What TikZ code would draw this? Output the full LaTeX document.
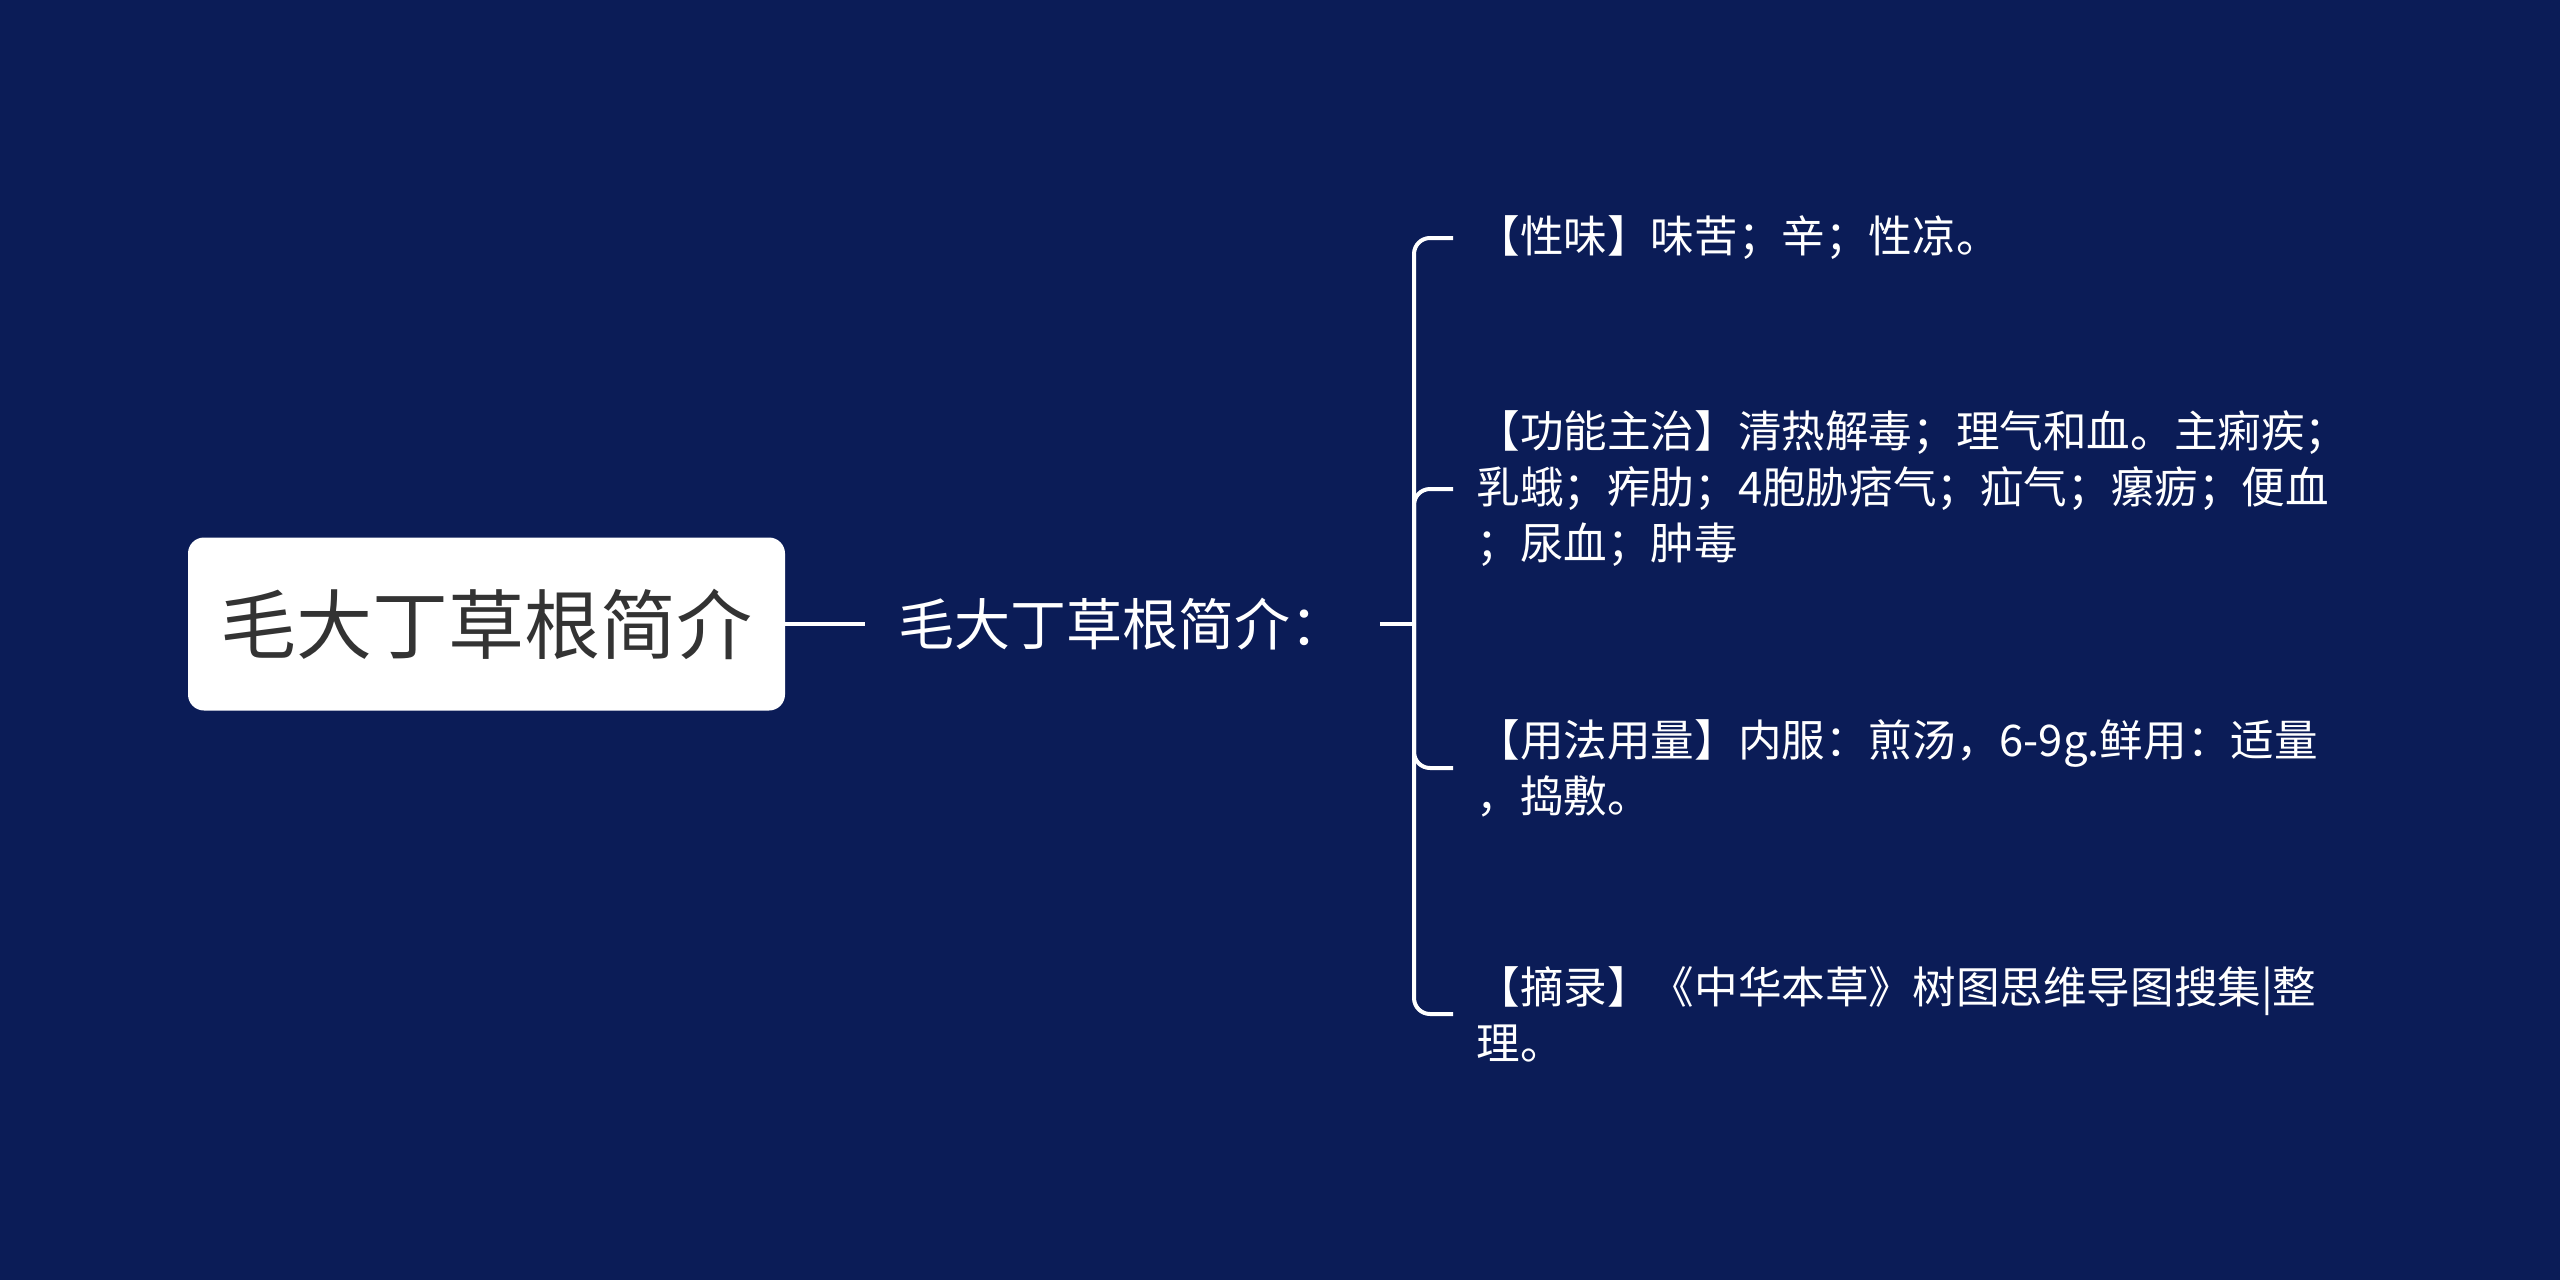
\documentclass[tikz,border=0pt]{standalone}
\usepackage{fontspec}
\setmainfont{Noto Sans CJK SC}
\definecolor{bg}{HTML}{0B1C57}
\definecolor{roottext}{HTML}{333333}
\begin{document}
\begin{tikzpicture}[x=0.5pt,y=-0.5pt,
  rootbox/.style={fill=white, rounded corners=8pt, minimum width=298.5pt, minimum height=86.5pt, text=roottext, font=\fontsize{38pt}{44pt}\selectfont, inner sep=0pt},
  midtext/.style={text=white, anchor=west, font=\fontsize{28pt}{34pt}\selectfont, inner xsep=16.5pt, inner ysep=0pt},
  leaftext/.style={text=white, anchor=west, align=left, font=\fontsize{21.8pt}{28pt}\selectfont, inner xsep=11.5pt, inner ysep=2pt},
  link/.style={draw=white, line width=2pt},
  branch/.style={draw=white, line width=2pt, rounded corners=8pt}]
\path[fill=bg] (0,0) rectangle (2560,1280);
\node[rootbox] (root) at (486.5,624) {毛大丁草根简介};
\node[midtext] (mid) at (865,624) {毛大丁草根简介：};
\coordinate (br) at (1414,624);
\node[leaftext] (l1) at (1453,238) {【性味】味苦；辛；性凉。};
\node[leaftext] (l2) at (1453,489) {【功能主治】清热解毒；理气和血。主痢疾；\\乳蛾；痄肋；4胞胁痞气；疝气；瘰疬；便血\\；尿血；肿毒};
\node[leaftext] (l3) at (1453,768) {【用法用量】内服：煎汤，6-9g.鲜用：适量\\，捣敷。};
\node[leaftext] (l4) at (1453,1014) {【摘录】《中华本草》树图思维导图搜集|整\\理。};
\draw[link] (root.east) -- (mid.west);
\draw[link] (mid.east) -- (br);
\draw[branch] (l1.west) -| (br) |- (l4.west);
\draw[branch] (br) |- (l2.west);
\draw[branch] (br) |- (l3.west);
\end{tikzpicture}
\end{document}
